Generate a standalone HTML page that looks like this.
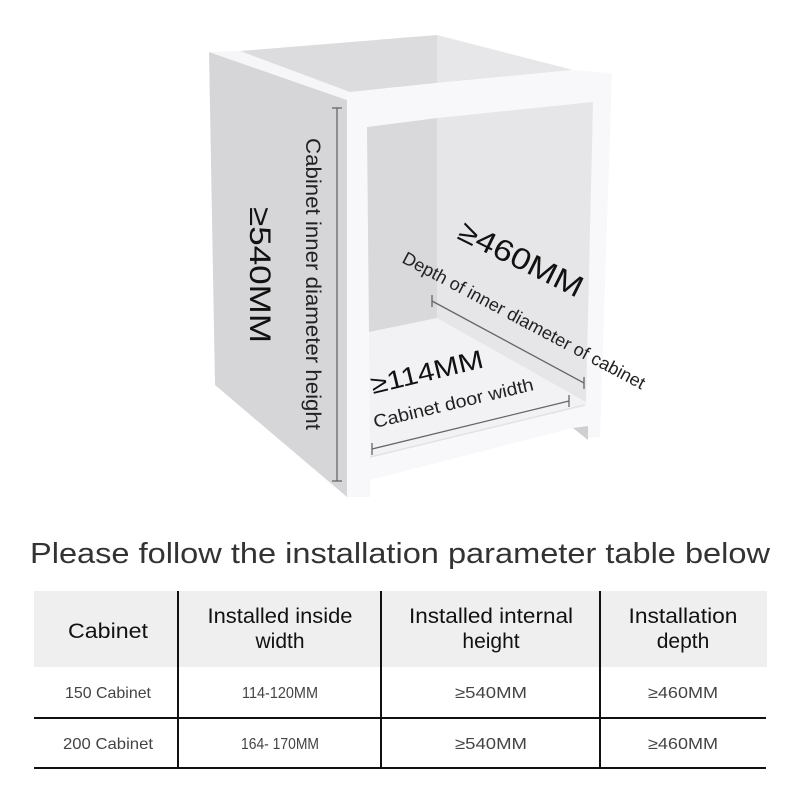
<!DOCTYPE html>
<html><head><meta charset="utf-8"><style>
html,body{margin:0;padding:0;background:#fff;width:800px;height:800px;overflow:hidden}
svg{display:block}
text{font-family:"Liberation Sans",sans-serif}
</style></head><body>
<svg width="800" height="800" viewBox="0 0 800 800" xmlns="http://www.w3.org/2000/svg">
<rect width="800" height="800" fill="#fff"/>
<!-- side panel -->
<polygon points="209,52 347,100 347,497 215,385" fill="#d6d6d8"/>
<!-- top left rim -->
<polygon points="209,52 240,51 350,92 347,100" fill="#f6f6f8"/>
<!-- top inner -->
<polygon points="240,51 437,35 437,83 350,92" fill="#dcdcde"/>
<polygon points="437,35 573,70 437,83" fill="#e7e7e9"/>
<!-- front frame -->
<polygon points="347,100 350,92 573,70 612,73 600,437 588,438 588,426 573,428 370,480 370,497 347,497" fill="#f8f8fa"/>
<!-- opening -->
<polygon points="367,127 593,102 585,405 370,457" fill="#f2f2f4"/>
<polygon points="437,118 593,102 586,402 437,318" fill="#e6e6e8"/>
<polygon points="367,127 437,118 437,318 369,332" fill="#d9d9db"/>
<line x1="370" y1="457" x2="585" y2="405" stroke="#e2e2e4" stroke-width="1.5"/>
<polygon points="573,428 588,426 588,440" fill="#cfcfd1"/>

<!-- height dimension -->
<g stroke="#666" stroke-width="1.3">
<line x1="337" y1="108" x2="337" y2="481"/>
<line x1="332" y1="108" x2="342" y2="108"/>
<line x1="332" y1="481" x2="342" y2="481"/>
</g>
<text transform="translate(306,138) rotate(90)" font-size="21" fill="#222" textLength="292" lengthAdjust="spacingAndGlyphs">Cabinet inner diameter height</text>
<text transform="translate(250,207) rotate(90)" font-size="30" fill="#111" textLength="136" lengthAdjust="spacingAndGlyphs">≥540MM</text>

<!-- depth dimension -->
<g stroke="#666" stroke-width="1.3">
<line x1="432" y1="301" x2="584" y2="383"/>
<line x1="432" y1="295" x2="432" y2="307"/>
<line x1="584" y1="377" x2="584" y2="389"/>
</g>
<text transform="translate(456,238) rotate(26.4)" font-size="30" fill="#111" textLength="135" lengthAdjust="spacingAndGlyphs">≥460MM</text>
<text transform="translate(401,262) rotate(28)" font-size="18" fill="#222" textLength="272" lengthAdjust="spacingAndGlyphs">Depth of inner diameter of cabinet</text>

<!-- width dimension -->
<g stroke="#666" stroke-width="1.3">
<line x1="372" y1="449" x2="569" y2="401"/>
<line x1="372" y1="443" x2="372" y2="455"/>
<line x1="569" y1="395" x2="569" y2="407"/>
</g>
<text transform="translate(373,394) rotate(-13.5)" font-size="26" fill="#111" textLength="115" lengthAdjust="spacingAndGlyphs">≥114MM</text>
<text transform="translate(375,428) rotate(-13.4)" font-size="18" fill="#222" textLength="164" lengthAdjust="spacingAndGlyphs">Cabinet door width</text>

<!-- title -->
<text x="30" y="563" font-size="29" fill="#333" textLength="740" lengthAdjust="spacingAndGlyphs">Please follow the installation parameter table below</text>

<!-- table -->
<rect x="34" y="591" width="733" height="76" fill="#efefef"/>
<g stroke="#111" stroke-width="2">
<line x1="178" y1="591" x2="178" y2="768"/>
<line x1="381" y1="591" x2="381" y2="768"/>
<line x1="600" y1="591" x2="600" y2="768"/>
<line x1="34" y1="718" x2="766" y2="718"/>
<line x1="34" y1="768" x2="766" y2="768"/>
</g>
<g font-size="21" fill="#111" text-anchor="middle">
<text x="108" y="638" textLength="80" lengthAdjust="spacingAndGlyphs">Cabinet</text>
<text x="280" y="623" textLength="145" lengthAdjust="spacingAndGlyphs">Installed inside</text>
<text x="280" y="648">width</text>
<text x="491" y="623" textLength="164" lengthAdjust="spacingAndGlyphs">Installed internal</text>
<text x="491" y="648">height</text>
<text x="683" y="623" textLength="109" lengthAdjust="spacingAndGlyphs">Installation</text>
<text x="683" y="648">depth</text>
</g>
<g font-size="16" fill="#444" text-anchor="middle">
<text x="108" y="698" textLength="86" lengthAdjust="spacingAndGlyphs">150 Cabinet</text>
<text x="280" y="698" textLength="76" lengthAdjust="spacingAndGlyphs">114-120MM</text>
<text x="491" y="698" textLength="72" lengthAdjust="spacingAndGlyphs">≥540MM</text>
<text x="683" y="698" textLength="70" lengthAdjust="spacingAndGlyphs">≥460MM</text>
<text x="108" y="749" textLength="90" lengthAdjust="spacingAndGlyphs">200 Cabinet</text>
<text x="280" y="749" textLength="78" lengthAdjust="spacingAndGlyphs">164- 170MM</text>
<text x="491" y="749" textLength="72" lengthAdjust="spacingAndGlyphs">≥540MM</text>
<text x="683" y="749" textLength="70" lengthAdjust="spacingAndGlyphs">≥460MM</text>
</g>
</svg>
</body></html>
